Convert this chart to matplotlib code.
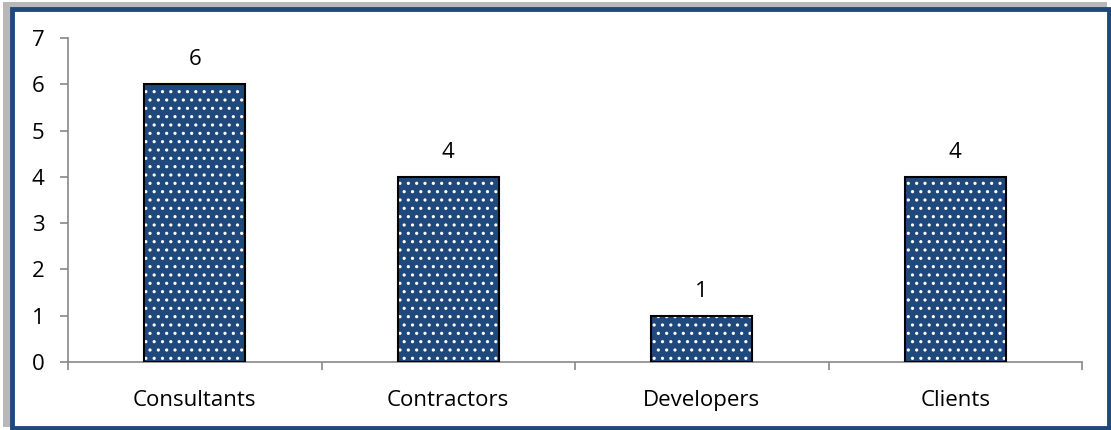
import matplotlib.pyplot as plt
from matplotlib.patches import Rectangle

# Werte aus dem Diagramm
categories = ["Consultants", "Contractors", "Developers", "Clients"]
counts = [6, 4, 1, 4]
yticks = [0, 1, 2, 3, 4, 5, 6, 7]

plt.rcParams['font.family'] = ['Open Sans', 'DejaVu Sans']
plt.rcParams['hatch.linewidth'] = 1.1

fig = plt.figure(figsize=(11.11, 4.3), dpi=100)
W, H = 1111, 430

# Rahmen mit Schatten oben links
fig.patches.append(Rectangle((0, 0), 1, 1, transform=fig.transFigure,
                             facecolor='white', edgecolor='none', zorder=0))
fig.patches.append(Rectangle((3 / W, 3 / H), 1104 / W, 425 / H, transform=fig.transFigure,
                             facecolor='#b8b8b8', edgecolor='none', zorder=0.5))
fig.patches.append(Rectangle((12 / W, 2 / H), 1097 / W, 419 / H, transform=fig.transFigure,
                             facecolor='white', edgecolor='#1F497D', linewidth=3.5, zorder=1))

ax = fig.add_axes([68 / W, 1 - 362 / H, 1014 / W, 324 / H])
ax.set_zorder(5)
ax.set_facecolor('none')
x = range(len(categories))

# Füllung mit weißen Punkten, dann schwarzer Rand
ax.bar(x, counts, width=0.4, color='#1F497D', edgecolor='white', hatch='..', linewidth=0, zorder=2)
ax.bar(x, counts, width=0.4, fill=False, edgecolor='black', linewidth=1.5, zorder=3)

for i, v in enumerate(counts):
    ax.text(i, v + 0.3, str(v), ha='center', va='bottom', fontsize=16)

ax.set_xlim(-0.5, len(categories) - 0.5)
ax.set_ylim(0, 7)
ax.set_yticks(yticks)
ax.set_xticks(x)
ax.set_xticklabels(categories, fontsize=16)
ax.set_xticks([i - 0.5 for i in range(len(categories) + 1)], minor=True)
ax.tick_params(axis='x', which='major', length=0, pad=20)
ax.tick_params(axis='x', which='minor', length=6, width=1.2, color='#888888', direction='out')
ax.tick_params(axis='y', length=6, width=1.2, color='#888888', labelsize=16, pad=11)

for s in ['top', 'right']:
    ax.spines[s].set_visible(False)
ax.spines['left'].set_color('#888888')
ax.spines['bottom'].set_color('#888888')
ax.spines['left'].set_linewidth(1.2)
ax.spines['bottom'].set_linewidth(1.2)

fig.savefig('out.png', dpi=100)
